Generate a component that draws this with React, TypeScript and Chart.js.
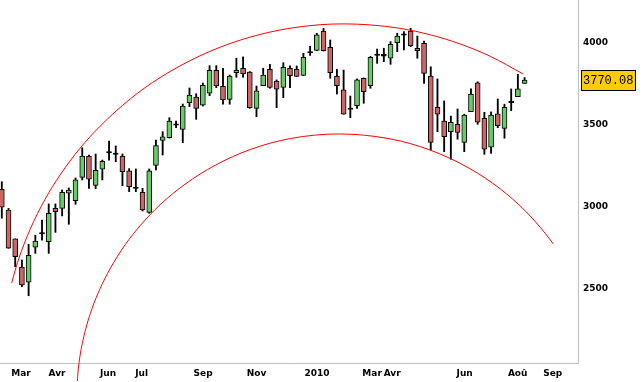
import React, { useEffect, useRef } from 'react';
import { Chart, registerables } from 'chart.js';

Chart.register(...registerables);

// Weekly candles, one per week (index 0 = week of 16 Feb 2009)
const opens = [
  3105, 2979, 2803, 2632, 2539, 2752, 2834, 2786, 2989, 2989,
  3081, 3036, 3178, 3308, 3129, 3227, 3326, 3326, 3308, 3217,
  3110, 3087, 2965, 3251, 3403, 3419, 3495, 3470, 3632, 3667,
  3617, 3690, 3830, 3732, 3653, 3815, 3842, 3819, 3598, 3736,
  3836, 3764, 3726, 3842, 3836, 3798, 3936, 3950, 4069, 3970,
  3795, 3710, 3600, 3614, 3781, 3736, 3920, 3926, 3903, 3998,
  4044, 4069, 3964, 3994, 3795, 3604, 3521, 3456, 3501, 3391,
  3578, 3754, 3537, 3361, 3564, 3476, 3641, 3669, 3750,
];
const closes = [
  2996, 2746, 2695, 2523, 2703, 2790, 2842, 2959, 2969, 3087,
  3101, 3162, 3308, 3166, 3221, 3276, 3334, 3318, 3212, 3121,
  3118, 2979, 3217, 3371, 3425, 3521, 3503, 3612, 3679, 3598,
  3738, 3830, 3734, 3649, 3795, 3830, 3807, 3602, 3704, 3801,
  3726, 3714, 3848, 3797, 3792, 3909, 3944, 4045, 3949, 3815,
  3736, 3562, 3592, 3771, 3699, 3909, 3928, 3916, 3988, 4038,
  4052, 3979, 3949, 3811, 3391, 3562, 3425, 3513, 3452, 3557,
  3685, 3513, 3349, 3557, 3492, 3604, 3632, 3716, 3770.08,
];
const highs = [
  3151, 2989, 2803, 2675, 2770, 2825, 2918, 3016, 3016, 3101,
  3113, 3174, 3358, 3314, 3320, 3283, 3399, 3369, 3320, 3231,
  3229, 3111, 3229, 3405, 3456, 3541, 3520, 3624, 3722, 3687,
  3752, 3858, 3858, 3842, 3801, 3903, 3911, 3822, 3734, 3842,
  3866, 3771, 3876, 3856, 3856, 3933, 3976, 4055, 4085, 4014,
  3836, 3831, 3673, 3777, 3783, 3914, 3959, 3964, 4004, 4055,
  4065, 4085, 4038, 4008, 3851, 3777, 3643, 3551, 3594, 3562,
  3716, 3760, 3574, 3576, 3655, 3623, 3716, 3805, 3785,
];
const lows = [
  2929, 2746, 2634, 2512, 2457, 2715, 2796, 2715, 2843, 2943,
  2892, 3014, 3162, 3111, 3109, 3162, 3283, 3273, 3127, 3091,
  3091, 2973, 2959, 3223, 3314, 3417, 3480, 3389, 3608, 3531,
  3612, 3675, 3724, 3623, 3623, 3787, 3787, 3598, 3547, 3736,
  3720, 3602, 3663, 3724, 3792, 3797, 3920, 3949, 3947, 3781,
  3685, 3562, 3541, 3598, 3629, 3720, 3872, 3882, 3866, 3943,
  3953, 3973, 3903, 3750, 3344, 3456, 3334, 3288, 3410, 3334,
  3578, 3501, 3318, 3324, 3480, 3416, 3584, 3669, 3750,
];

// Red arcs (week index, price)
const upperArcWeeks = [1.48, 1.97, 2.72, 4.21, 6.45, 8.69, 11.67, 14.66, 19.13, 23.61, 29.58, 35.55, 41.52, 47.49, 51.08, 54.96, 59.43, 63.91, 68.39, 72.87, 77.79];
const upperArcPrices = [2535, 2609, 2705, 2860, 3044, 3192, 3355, 3489, 3654, 3785, 3918, 4013, 4075, 4107, 4112, 4106, 4085, 4046, 3990, 3915, 3807];
const lowerArcWeeks = [11.27, 11.37, 11.67, 12.42, 13.46, 14.66, 16.15, 18.39, 20.63, 23.61, 27.34, 31.82, 37.05, 43.02, 50.33, 57.94, 63.91, 69.88, 74.36, 78.09, 81.08, 82.27];
const lowerArcPrices = [1937, 1993, 2091, 2239, 2379, 2500, 2621, 2767, 2883, 3011, 3136, 3251, 3347, 3414, 3442, 3412, 3344, 3230, 3108, 2974, 2837, 2773];

// Axis ticks
const monthTickWeeks = [2.87, 8.24, 15.85, 20.85, 30.03, 38.01, 47.04, 55.25, 58.24, 69.06, 76.97, 82.19];
const monthTickLabels = ['Mar', 'Avr', 'Jun', 'Jul', 'Sep', 'Nov', '2010', 'Mar', 'Avr', 'Jun', 'Aoû', 'Sep'];
const priceTicks = [2500, 3000, 3500, 4000];

const axisFont = { family: "'DejaVu Sans', Verdana, sans-serif", size: 9, weight: 'bold' as const };

const framePlugin = {
  id: 'frame',
  beforeDatasetsDraw(chart: any) {
    const { ctx, chartArea } = chart;
    ctx.save();
    ctx.strokeStyle = '#bdbdbd';
    ctx.lineWidth = 1;
    ctx.beginPath();
    const r = Math.round(chartArea.right) + 0.5;
    const b = Math.round(chartArea.bottom) + 0.5;
    ctx.moveTo(r, 0);
    ctx.lineTo(r, b);
    ctx.lineTo(0, b);
    ctx.stroke();
    ctx.restore();
  },
};

const lastPricePlugin = {
  id: 'lastPrice',
  afterDraw(chart: any) {
    const { ctx, chartArea, scales } = chart;
    const last = closes[closes.length - 1];
    const y = Math.round(scales.y.getPixelForValue(last));
    const x = Math.round(chartArea.right) + 3;
    ctx.save();
    ctx.fillStyle = '#FFCC00';
    ctx.fillRect(x, y - 10, 55, 21);
    ctx.strokeStyle = '#000';
    ctx.lineWidth = 1;
    ctx.strokeRect(x + 0.5, y - 9.5, 54, 20);
    ctx.fillStyle = '#000';
    ctx.font = "12px 'Liberation Mono', 'DejaVu Sans Mono', monospace";
    ctx.textBaseline = 'middle';
    ctx.textAlign = 'left';
    ctx.fillText(last.toFixed(2), x + 2, y + 1);
    ctx.restore();
  },
};

export default function App() {
  const ref = useRef<HTMLCanvasElement>(null);

  useEffect(() => {
    document.body.style.margin = '0';
    const canvas = ref.current;
    if (!canvas) return;
    const idx = opens.map((_, i) => i);
    const bodies = idx.map((i) => ({ x: i, y: [opens[i], closes[i]] }));
    const wicks = idx.map((i) => ({ x: i, y: [lows[i], highs[i]] }));
    const bodyColors = idx.map((i) =>
      Math.abs(closes[i] - opens[i]) < 12 ? '#000000' : closes[i] > opens[i] ? '#66CC66' : '#CC6666'
    );

    const arcStyle = {
      type: 'line',
      borderColor: '#FF0000',
      borderWidth: 1,
      pointRadius: 0,
      cubicInterpolationMode: 'monotone',
      fill: false,
      clip: false,
      order: 0,
    };

    const chart = new Chart(canvas, {
      type: 'bar',
      data: {
        datasets: [
          {
            ...arcStyle,
            data: upperArcWeeks.map((w, k) => ({ x: w, y: upperArcPrices[k] })),
          } as any,
          {
            ...arcStyle,
            data: lowerArcWeeks.map((w, k) => ({ x: w, y: lowerArcPrices[k] })),
          } as any,
          {
            type: 'bar',
            data: bodies as any,
            backgroundColor: bodyColors,
            borderColor: '#000000',
            borderWidth: 1,
            borderSkipped: false,
            barThickness: 5,
            grouped: false,
            order: 1,
          } as any,
          {
            type: 'bar',
            data: wicks as any,
            backgroundColor: '#000000',
            borderWidth: 0,
            barThickness: 1.2,
            grouped: false,
            order: 2,
          } as any,
        ],
      },
      options: {
        responsive: false,
        animation: false,
        events: [],
        layout: { padding: 0 },
        plugins: { legend: { display: false }, tooltip: { enabled: false } },
        scales: {
          x: {
            type: 'linear',
            min: -0.27,
            max: 85.97,
            bounds: 'data',
            offset: false,
            grid: { display: false, drawTicks: false },
            border: { display: false },
            afterBuildTicks: (scale: any) => {
              scale.ticks = monthTickWeeks.map((v) => ({ value: v }));
            },
            afterFit: (scale: any) => {
              scale.height = 19;
              scale.paddingLeft = 0;
              scale.paddingRight = 0;
            },
            ticks: {
              autoSkip: false,
              maxRotation: 0,
              minRotation: 0,
              padding: 5,
              color: '#000',
              font: axisFont,
              callback: (_v: any, i: number) => monthTickLabels[i],
            },
          },
          y: {
            type: 'linear',
            position: 'right',
            min: 2047.6,
            max: 4257.5,
            bounds: 'data',
            grid: { display: false, drawTicks: false },
            border: { display: false },
            afterBuildTicks: (scale: any) => {
              scale.ticks = priceTicks.map((v) => ({ value: v }));
            },
            afterFit: (scale: any) => {
              scale.width = 64;
              scale.paddingTop = 0;
              scale.paddingBottom = 0;
            },
            ticks: {
              padding: 5,
              color: '#000',
              font: axisFont,
              callback: (v: any) => String(v),
            },
          },
        },
      },
      plugins: [framePlugin, lastPricePlugin],
    });

    return () => chart.destroy();
  }, []);

  return (
    <div style={{ width: 642, height: 382 }}>
      <canvas ref={ref} width={642} height={382} style={{ display: 'block' }} />
    </div>
  );
}
